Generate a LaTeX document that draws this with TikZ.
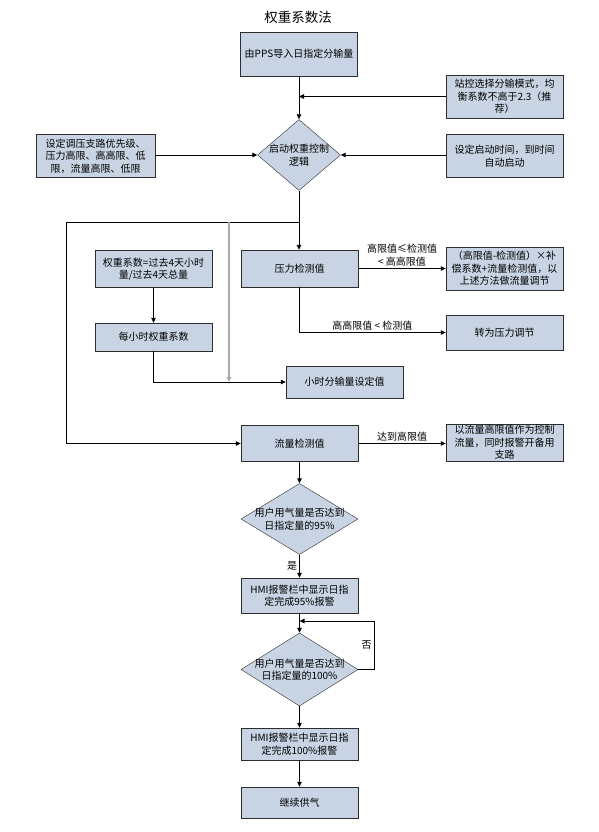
\documentclass[tikz,border=0pt]{standalone}
\usepackage{fontspec}
\setmainfont{Noto Sans CJK SC}
\usetikzlibrary{shapes.geometric,arrows.meta}
\definecolor{boxfill}{RGB}{200,212,227}
\definecolor{boxline}{RGB}{45,45,45}
\definecolor{greyline}{RGB}{170,170,170}

\begin{document}
\begin{tikzpicture}[x=1pt, y=-1pt, >={Triangle[length=5pt,width=4.5pt]},
    font=\fontsize{10}{12.5}\selectfont,
    box/.style={draw=boxline, fill=boxfill, minimum width=117pt, align=center, inner sep=1pt},
    decision/.style={diamond, draw=boxline, fill=boxfill, inner sep=0pt},
    dtext/.style={align=center, inner sep=0pt},
    line/.style={draw=black, line width=0.8pt},
    lbl/.style={inner sep=2pt, align=center}]
    \useasboundingbox (0, 0) rectangle (599, 832);
    %\draw[lightgray] (0, 0) grid[step=50] (599, 832);
    \node[font=\fontsize{13.5}{15}\selectfont] (title) at (298, 17) {权重系数法};

    \node[box, minimum height=44pt] (import) at (299, 54) {由PPS导入日指定分输量};
    \node[box, minimum height=43pt] (mode) at (504.5, 96.5) {站控选择分输模式，均\\衡系数不高于2.3（推\\荐）};
    \node[decision, minimum width=83pt, minimum height=71pt,
        label={[dtext]center:启动权重控制\\逻辑}] (start) at (299, 155) {};
    \node[box, minimum width=119pt, minimum height=43pt] (limits) at (95.5, 156) {设定调压支路优先级、\\压力高限、高高限、低\\限，流量高限、低限};
    \node[box, minimum height=43pt] (timer) at (504.5, 156) {设定启动时间，到时间\\自动启动};

    \coordinate (split) at (299, 222);
    \coordinate (splitl) at (66, 222);
    \coordinate (splitg) at (229, 222);

    \node[box, minimum height=37pt] (press) at (299.5, 268.5) {压力检测值};
    \node[box, minimum height=37pt] (weight) at (153.5, 269) {权重系数=过去4天小时\\量/过去4天总量};
    \node[box, minimum height=28pt] (hourly) at (153.5, 337) {每小时权重系数};
    \node[box, minimum height=32pt] (setpoint) at (344.5, 382) {小时分输量设定值};
    \node[box, minimum height=43pt] (adjust) at (504.5, 268.5) {（高限值-检测值）×补\\偿系数+流量检测值，以\\上述方法做流量调节};
    \node[box, minimum height=35pt] (topress) at (504.5, 332.5) {转为压力调节};

    \node[box, minimum height=36pt] (flow) at (299.5, 443.5) {流量检测值};
    \node[box, minimum height=37pt] (spare) at (504.5, 442.5) {以流量高限值作为控制\\流量，同时报警开备用\\支路};

    \node[decision, minimum width=117pt, minimum height=71pt,
        label={[dtext]center:用户用气量是否达到\\日指定量的95\%}] (check95) at (299.5, 519) {};
    \node[box, minimum height=35pt] (alarm95) at (299.5, 595.5) {HMI报警栏中显示日指\\定完成95\%报警};
    \node[decision, minimum width=117pt, minimum height=73pt,
        label={[dtext]center:用户用气量是否达到\\日指定量的100\%}] (check100) at (299.5, 669.5) {};
    \node[box, minimum height=32pt] (alarm100) at (299.5, 744) {HMI报警栏中显示日指\\定完成100\%报警};
    \node[box, minimum height=31pt] (supply) at (299.5, 802.5) {继续供气};
    \coordinate (back) at (374, 621);

    % upper part
    \draw[line, ->] (import) -- (start);
    \draw[line, ->] (mode.west) -- (mode.west -| import.south);
    \draw[line, ->] (limits.east |- start) -- (start.west);
    \draw[line, ->] (timer.west |- start) -- (start.east);
    \draw[line] (start.south) -- (split) -- (splitl);
    \draw[line, ->] (split) -- (press.north -| split);

    % pressure branch
    \draw[line, ->] (press.east |- adjust) -- (adjust.west)
        node[lbl, midway, above] {高限值≤检测值\\< 高高限值};
    \draw[line, ->] (press.south -| split) |- (topress.west)
        node[lbl, pos=0.75, above] {高高限值 < 检测值};

    % weight coefficients
    \draw[line, ->] (weight) -- (hourly);
    \draw[line, ->] (hourly.south) |- (setpoint.west);
    \draw[greyline, line width=1.4pt, ->] (splitg) -- (splitg |- setpoint.west);

    % flow branch
    \draw[line, ->] (splitl) |- (flow.west);
    \draw[line, ->] (flow.east) -- (spare.west |- flow.east)
        node[lbl, midway, above] {达到高限值};
    \draw[line, ->] (flow) -- (check95);
    \draw[line, ->] (check95) -- (alarm95) node[lbl, midway, left] {是};
    \draw[line, ->] (alarm95) -- (check100);
    \draw[line, ->] (check100.east) -| (back) node[lbl, pos=0.75, left] {否}
        -- (back -| check100.north);
    \draw[line, ->] (check100) -- (alarm100);
    \draw[line, ->] (alarm100) -- (supply);
\end{tikzpicture}
\end{document}
